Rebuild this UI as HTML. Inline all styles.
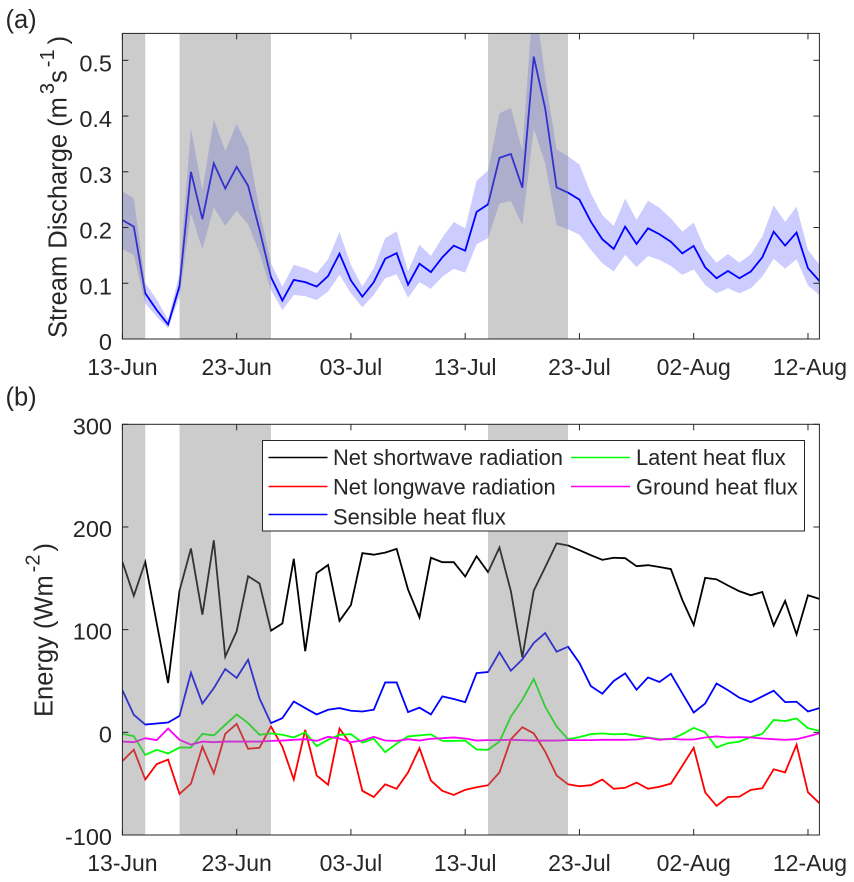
<!DOCTYPE html>
<html lang="en">
<head>
<meta charset="utf-8">
<title>Stream discharge and energy fluxes</title>
<style>
html,body{margin:0;padding:0;background:#fff;}
svg{display:block;}
text{font-family:"Liberation Sans",Arial,sans-serif;fill:#262626;}
</style>
</head>
<body>
<svg id="figure" xmlns="http://www.w3.org/2000/svg" width="854" height="882" viewBox="0 0 854 882">
<defs>
<clipPath id="clip-a"><rect x="122.4" y="33.4" width="697" height="305.6"/></clipPath>
<clipPath id="clip-b"><rect x="122.4" y="424.3" width="697" height="410.7"/></clipPath>
</defs>
<rect width="854" height="882" fill="#fff"/>
<text x="5.5" y="28" font-size="25.5" fill="#000">(a)</text>
<text x="5.5" y="405.5" font-size="25.5" fill="#000">(b)</text>
<text transform="translate(66.7,338) rotate(-90)" font-size="25.5">Stream Discharge (m<tspan font-size="20" dx="3" dy="-12.5">3</tspan><tspan dy="12.5">s</tspan><tspan font-size="20" dx="3" dy="-12.5">-1</tspan><tspan dx="5" dy="12.5">)</tspan></text>
<text transform="translate(52.7,717) rotate(-90)" font-size="25.5">Energy (Wm<tspan font-size="20" dx="3" dy="-13">-2</tspan><tspan dx="3" dy="13">)</tspan></text>
<g id="panel-a"></g>
<g id="panel-b"></g>
<g id="legend">
<rect x="262.5" y="440.5" width="542" height="90.5" fill="#fff" stroke="#262626" stroke-width="1"/>
<line x1="268.5" x2="327.5" y1="457.5" y2="457.5" stroke="#000" stroke-width="1.6"/>
<text x="333" y="465" font-size="21.9" fill="#000">Net shortwave radiation</text>
<line x1="268.5" x2="327.5" y1="486.5" y2="486.5" stroke="#f00" stroke-width="1.6"/>
<text x="333" y="494.3" font-size="21.9" fill="#000">Net longwave radiation</text>
<line x1="268.5" x2="327.5" y1="514.5" y2="514.5" stroke="#00f" stroke-width="1.6"/>
<text x="333" y="524.3" font-size="21.9" fill="#000">Sensible heat flux</text>
<line x1="571" x2="630" y1="457.5" y2="457.5" stroke="#0f0" stroke-width="1.6"/>
<text x="636" y="465" font-size="21.9" fill="#000">Latent heat flux</text>
<line x1="571" x2="630" y1="486.5" y2="486.5" stroke="#f0f" stroke-width="1.6"/>
<text x="636" y="494.3" font-size="21.9" fill="#000">Ground heat flux</text>
</g>
</svg>
<script>
const xTickDays = [0, 10, 20, 30, 40, 50, 60];
const xTickLabels = ['13-Jun', '23-Jun', '03-Jul', '13-Jul', '23-Jul', '02-Aug', '12-Aug'];
const rainStartDays = [0, 5, 32];
const rainEndDays = [2, 13, 39];
const dischargeTicks = [0, 0.1, 0.2, 0.3, 0.4, 0.5];
const dischargeTickLabels = ['0', '0.1', '0.2', '0.3', '0.4', '0.5'];
const energyTicks = [-100, 0, 100, 200, 300];
const energyTickLabels = ['-100', '0', '100', '200', '300'];

const dischargeMean = [0.2135,0.2016,0.082,0.052,0.026,0.095,0.300,0.215,0.315,0.270,0.309,0.275,0.196,0.111,0.069,0.106,0.102,0.094,0.113,0.153,0.105,0.076,0.102,0.144,0.154,0.0975,0.135,0.12,0.1465,0.1675,0.1585,0.228,0.2416,0.325,0.332,0.2715,0.5066,0.414,0.272,0.2626,0.25,0.2105,0.179,0.1615,0.2016,0.1705,0.1986,0.188,0.1746,0.1537,0.167,0.1286,0.109,0.122,0.109,0.121,0.1465,0.1926,0.1675,0.191,0.127,0.104];
const dischargeUpper = [0.2644,0.2524,0.1,0.071,0.034,0.118,0.378,0.267,0.394,0.337,0.386,0.345,0.2315,0.136,0.094,0.133,0.127,0.118,0.143,0.192,0.133,0.094,0.127,0.181,0.193,0.121,0.169,0.149,0.182,0.21,0.1986,0.284,0.302,0.405,0.4145,0.338,0.624,0.47,0.34,0.328,0.313,0.261,0.2225,0.2027,0.2518,0.2135,0.248,0.2356,0.2165,0.1926,0.2087,0.161,0.137,0.1525,0.137,0.152,0.1836,0.24,0.21,0.2374,0.16,0.133];
const dischargeLower = [0.161,0.151,0.064,0.04,0.019,0.076,0.2255,0.161,0.236,0.203,0.23,0.206,0.154,0.088,0.052,0.079,0.077,0.07,0.085,0.115,0.082,0.057,0.079,0.109,0.116,0.074,0.102,0.09,0.112,0.126,0.119,0.17,0.181,0.243,0.2476,0.2045,0.378,0.315,0.2045,0.197,0.187,0.16,0.136,0.121,0.151,0.129,0.149,0.142,0.131,0.115,0.125,0.097,0.082,0.091,0.082,0.091,0.112,0.144,0.126,0.143,0.096,0.079];

const shortwave = [166,133,166,106.5,48,138,179,114.6,187,73.7,98.4,152,145,99,106,169,79,155,163,108.5,124,174.5,173,175,178.7,139,112,170,165.7,165.7,151.7,171.5,156,180,137.4,73,138,160.8,184,182,177.4,172.5,168,170,169.6,161.8,162.8,161,159,129,104.5,150.4,149,143,137.4,133.5,136.7,104,128,95.4,133.5,130];
const longwave = [-28,-17,-46,-31,-26.5,-60,-50,-14,-40,-1.5,8.3,-16,-15,5.7,-14,-46,2.4,-42,-51,3.7,-12,-57,-63,-50.6,-55,-39,-15.4,-47,-57,-61,-56,-53.5,-51.5,-39,-6.7,5,-1,-18.7,-42,-50.6,-52.5,-51.5,-46,-55,-54,-49,-55,-53,-50,-32.7,-15,-58.4,-71.7,-63,-62.6,-56,-54.5,-36,-39,-12,-58.4,-69];
const sensible = [41,17,7.6,8.6,9.6,16,58,28,43,61.6,53,70.7,33,9,13.8,30,23.6,17.4,22,23.6,21,20.3,22,48.6,48.6,19.7,24,17.4,35,32.4,29.4,57.7,58.7,78,60,71,87,96.7,78.5,83.4,67.5,45,37.6,50,57.4,41.5,53.5,49,57,38,19.3,28,47.6,41,33.7,29.4,35,40.5,29.4,29.8,20.3,23.6];
const latent = [-1.5,-3.7,-22,-17,-20.6,-14.8,-14.8,-1.5,-3,7.3,17.4,9,-2.4,-1,-2.4,-5,0,-13.5,-7.3,-2.4,-1.8,-10,-6.3,-19.3,-11,-4,-3,-2,-8.3,-8.3,-8,-16.7,-17,-9,15.4,31.7,52,25,5.7,-6.7,-4.7,-1.8,-1,-2,-1.5,-3.4,-5,-6.7,-6.7,-1.8,4.4,0,-14.8,-10.6,-9,-4.7,-1.5,12,11,13.5,4,1.5];
const ground = [-9,-9.6,-5.7,-7.6,3.7,-7.3,-12,-9,-9.6,-9,-9,-9,-9,-8.3,-8,-7.3,-6.7,-8.3,-4.4,-6,-9.6,-8,-4.4,-8,-8.3,-6.7,-8,-6.3,-5.7,-5,-6,-8,-7.6,-7.6,-7.3,-7.6,-8,-8,-8,-7.6,-7.6,-7.6,-7.3,-7.3,-7.3,-7,-5.4,-7.3,-6.3,-7,-7,-5,-4,-5,-4.7,-5,-6,-6.7,-7.3,-6.7,-4,-1];

const SVG_NS = 'http://www.w3.org/2000/svg';
const AXIS_COLOR = '#262626';
const LINE_WIDTH = 1.8;
const plotLeft = 122.4;
const plotRight = 819.4;
const dayMax = 61;
const aTop = 33.4;
const aBottom = 339;
const aMax = 0.5483;
const bTop = 424.3;
const bBottom = 835;
const bMin = -100;
const bMax = 300;

function xScale(day) {
  return plotLeft + (day / dayMax) * (plotRight - plotLeft);
}
function yDischarge(value) {
  return aBottom - (value / aMax) * (aBottom - aTop);
}
function yEnergy(value) {
  return bBottom - ((value - bMin) / (bMax - bMin)) * (bBottom - bTop);
}
function make(tag, parent, attrs) {
  const el = document.createElementNS(SVG_NS, tag);
  Object.keys(attrs).forEach(function (key) { el.setAttribute(key, attrs[key]); });
  parent.appendChild(el);
  return el;
}
function linePoints(values, yFn) {
  return values.map(function (v, i) {
    return xScale(i).toFixed(2) + ',' + yFn(v).toFixed(2);
  }).join(' ');
}
function drawRainPatches(group, top, bottom) {
  rainStartDays.forEach(function (start, i) {
    const patch = make('rect', group, {
      x: xScale(start),
      y: top,
      width: xScale(rainEndDays[i]) - xScale(start),
      height: bottom - top,
      fill: 'rgb(127,127,127)',
      'fill-opacity': 0.4
    });
    
    
  });
}
function drawFrame(group, top, bottom, yFn, ticks, labels, labelName, labelOffset) {
  const frame = make('rect', group, {
    x: plotLeft,
    y: top,
    width: plotRight - plotLeft,
    height: bottom - top,
    fill: 'none',
    stroke: AXIS_COLOR,
    'stroke-width': 1
  });
  
  

  xTickDays.forEach(function (day, i) {
    const x = xScale(day);
    const tickBottom = make('line', group, { x1: x, x2: x, y1: bottom, y2: bottom - 6, stroke: AXIS_COLOR, 'stroke-width': 1 });
    
    
    const tickTop = make('line', group, { x1: x, x2: x, y1: top, y2: top + 6, stroke: AXIS_COLOR, 'stroke-width': 1 });
    
    
    const label = make('text', group, { x: x + (i === xTickDays.length - 1 ? 2 : 0), y: bottom + 36, 'font-size': 23, 'text-anchor': 'middle' });
    
    
    label.textContent = xTickLabels[i];
  });

  ticks.forEach(function (value, i) {
    const y = yFn(value);
    const tickLeft = make('line', group, { x1: plotLeft, x2: plotLeft + 6, y1: y, y2: y, stroke: AXIS_COLOR, 'stroke-width': 1 });
    
    
    const tickRight = make('line', group, { x1: plotRight, x2: plotRight - 6, y1: y, y2: y, stroke: AXIS_COLOR, 'stroke-width': 1 });
    
    
    const label = make('text', group, { x: 112, y: y + labelOffset, 'font-size': 23.5, 'text-anchor': 'end' });
    
    
    label.textContent = labels[i];
  });
}

const panelA = document.getElementById('panel-a');
const plotA = make('g', panelA, { 'clip-path': 'url(#clip-a)' });



const bandPoints = linePoints(dischargeUpper, yDischarge) + ' ' +
  dischargeLower.map(function (v, i) {
    return xScale(i).toFixed(2) + ',' + yDischarge(v).toFixed(2);
  }).reverse().join(' ');
const band = make('polygon', plotA, { points: bandPoints, fill: '#00f', 'fill-opacity': 0.2, stroke: 'none' });



const meanLine = make('polyline', plotA, { points: linePoints(dischargeMean, yDischarge), fill: 'none', stroke: '#00f', 'stroke-width': LINE_WIDTH, 'stroke-linejoin': 'miter' });



drawRainPatches(plotA, aTop, aBottom);
drawFrame(panelA, aTop, aBottom, yDischarge, dischargeTicks, dischargeTickLabels, 'y-tick-label-discharge', 11);

const panelB = document.getElementById('panel-b');
const plotB = make('g', panelB, { 'clip-path': 'url(#clip-b)' });



const shortwaveLine = make('polyline', plotB, { points: linePoints(shortwave, yEnergy), fill: 'none', stroke: '#000', 'stroke-width': LINE_WIDTH });



const longwaveLine = make('polyline', plotB, { points: linePoints(longwave, yEnergy), fill: 'none', stroke: '#f00', 'stroke-width': LINE_WIDTH });



const sensibleLine = make('polyline', plotB, { points: linePoints(sensible, yEnergy), fill: 'none', stroke: '#00f', 'stroke-width': LINE_WIDTH });



const latentLine = make('polyline', plotB, { points: linePoints(latent, yEnergy), fill: 'none', stroke: '#0f0', 'stroke-width': LINE_WIDTH });



const groundLine = make('polyline', plotB, { points: linePoints(ground, yEnergy), fill: 'none', stroke: '#f0f', 'stroke-width': LINE_WIDTH });



drawRainPatches(plotB, bTop, bBottom);
drawFrame(panelB, bTop, bBottom, yEnergy, energyTicks, energyTickLabels, 'y-tick-label-energy', 10);
</script>
</body>
</html>
